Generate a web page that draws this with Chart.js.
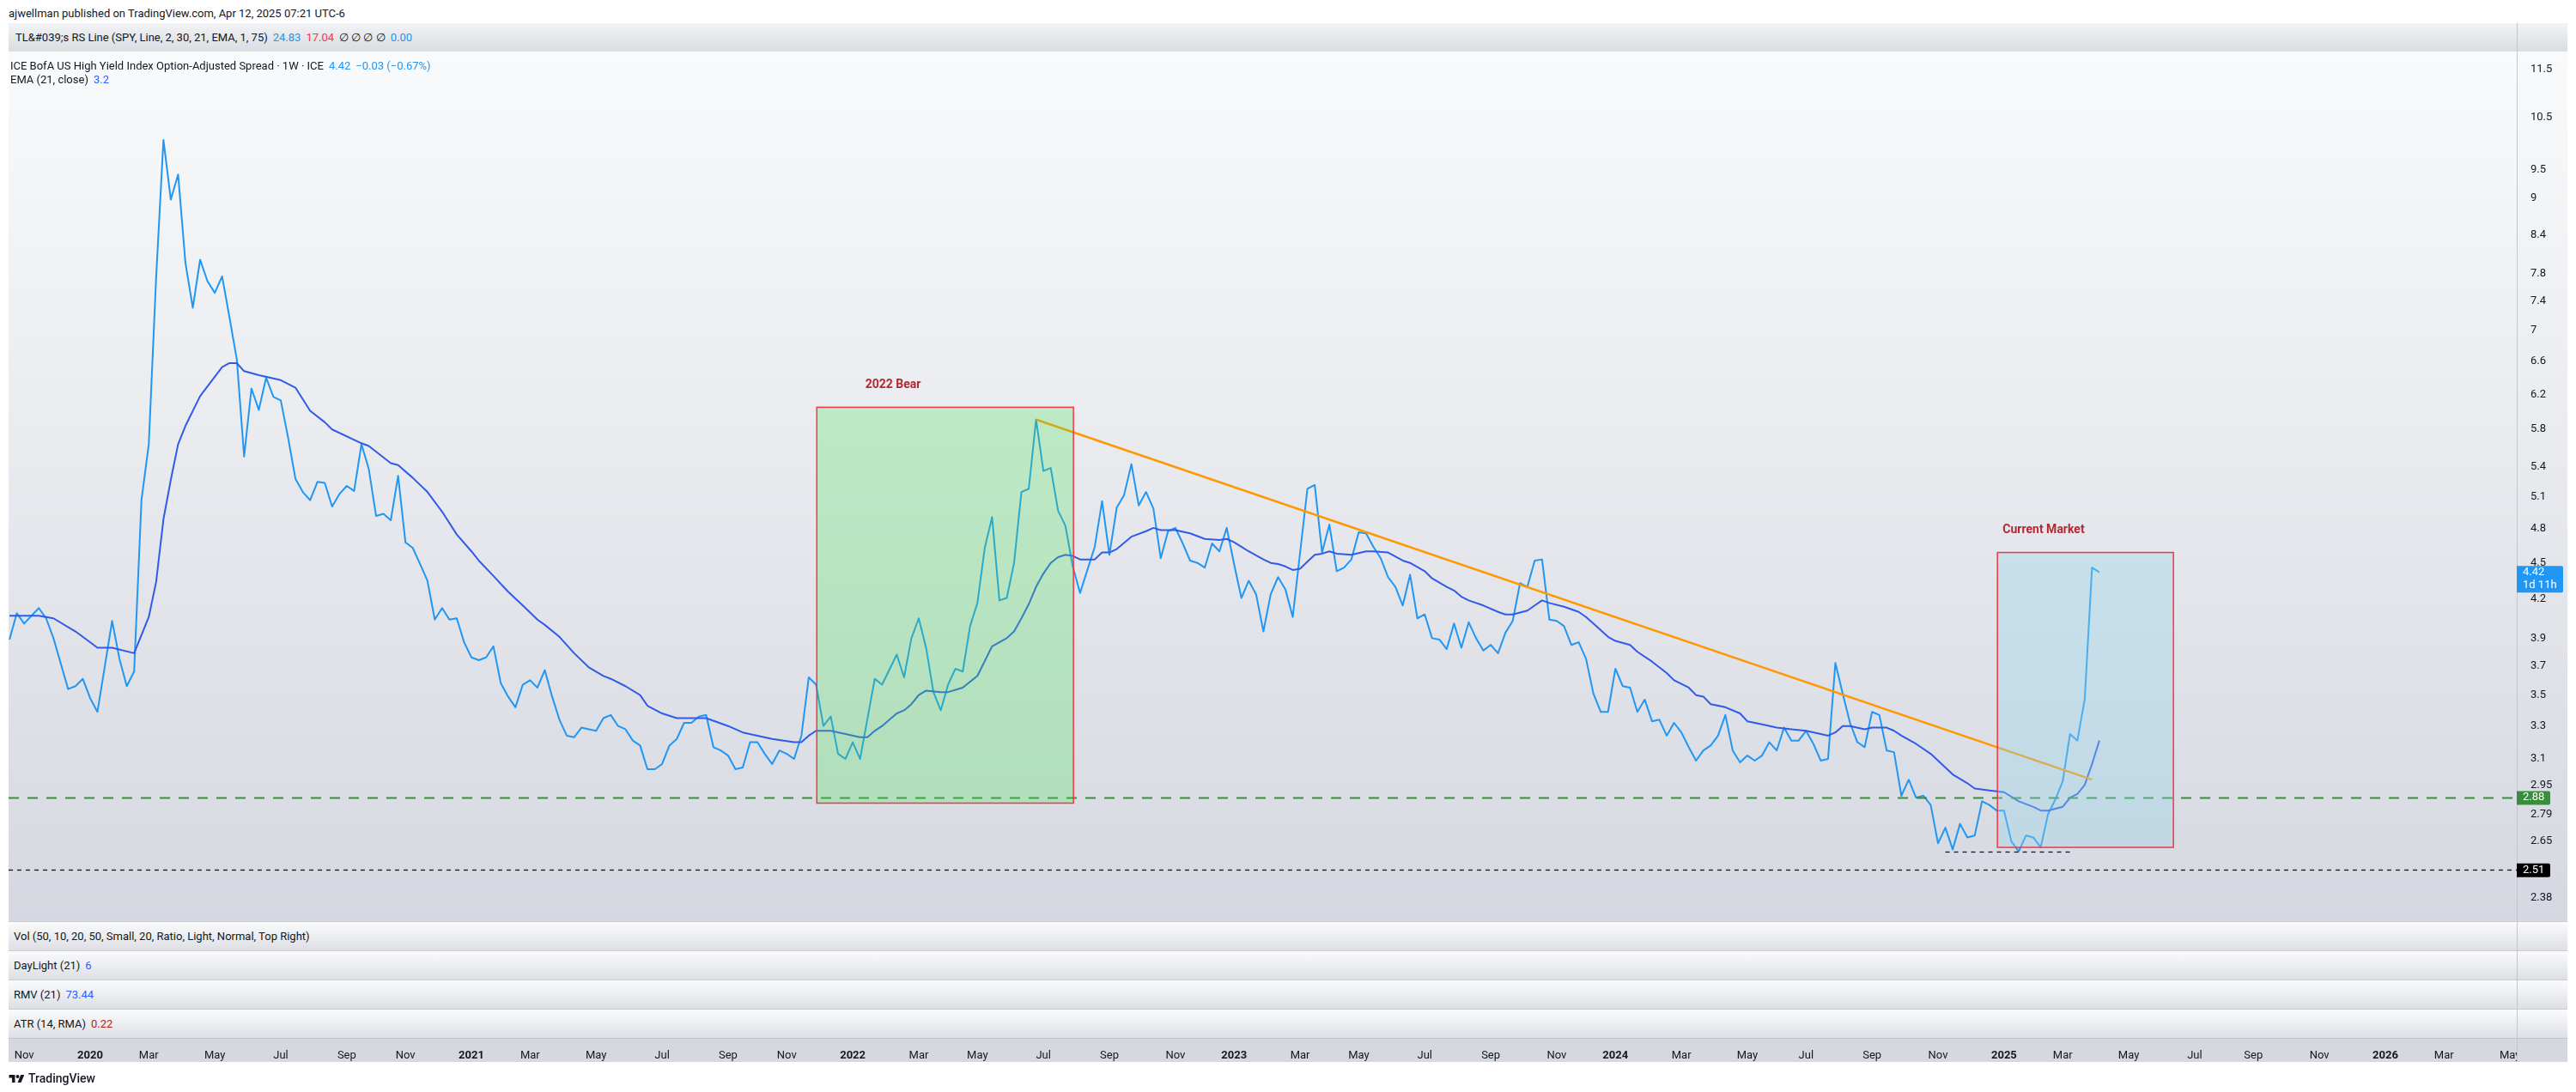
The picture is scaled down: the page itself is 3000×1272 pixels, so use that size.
<!DOCTYPE html>
<html>
<head>
<meta charset="utf-8">
<script src="https://cdn.jsdelivr.net/npm/chart.js@4.4.1/dist/chart.umd.min.js"></script>
<style>
  html, body { margin: 0; padding: 0; background: #fff; }
  body { width: 3000px; height: 1272px; position: relative; overflow: hidden;
         font-family: Roboto, "Noto Sans", sans-serif; font-size: 13px; color: #131722; }
  .abs { position: absolute; }
  #hdr { left: 10px; top: 8px; line-height: 16px; }
  #rs { left: 10px; top: 27px; width: 2980px; height: 33px; background: linear-gradient(#f2f3f5, #d9dce1); }
  #rs .t { position: absolute; left: 8px; top: 0; line-height: 33px; white-space: nowrap; }
  #mainbg { left: 10px; top: 60px; width: 2980px; height: 1013px; background: linear-gradient(#f9fafb, #d5d8e0); }
  .pane { left: 10px; width: 2980px; height: 34px; box-sizing: border-box;
          background: linear-gradient(#fbfbfc, #dcdfe5); border-top: 1px solid #c9ccd3; }
  .pane .t { position: absolute; left: 6px; top: 0; line-height: 33px; white-space: nowrap; }
  #timebg { left: 10px; top: 1209px; width: 2980px; height: 28px; box-sizing: border-box;
            background: #d5d8df; border-top: 1px solid #bfc3cb; }
  #sep { left: 2931px; top: 27px; width: 1px; height: 1210px; background: #c3c6cd; }
  #legend { left: 12px; top: 69px; line-height: 16px; z-index: 2; white-space: nowrap; }
  #logo { left: 10px; top: 1248px; line-height: 16px; font-size: 14px; font-weight: 500; z-index: 2; }
  #logo svg { vertical-align: -1px; margin-right: 4px; }
  .blue { color: #2196f3; }
  .blue2 { color: #2962ff; }
  .red { color: #f23645; }
  .dred { color: #b71c1c; }
  .gap { margin-left: 6px; }
  canvas { position: absolute; left: 0; top: 0; z-index: 1; }
</style>
</head>
<body>
<div id="hdr" class="abs">ajwellman published on TradingView.com, Apr 12, 2025 07:21 UTC-6</div>
<div id="rs" class="abs"><span class="t">TL&amp;#039;s RS Line (SPY, Line, 2, 30, 21, EMA, 1, 75)<span class="gap blue">24.83</span><span class="gap red">17.04</span><span class="gap">&#8709; &#8709; &#8709; &#8709;</span><span class="gap blue">0.00</span></span></div>
<div id="mainbg" class="abs"></div>
<div class="abs pane" style="top:1073px"><span class="t">Vol (50, 10, 20, 50, Small, 20, Ratio, Light, Normal, Top Right)</span></div>
<div class="abs pane" style="top:1107px"><span class="t">DayLight (21)<span class="gap blue2">6</span></span></div>
<div class="abs pane" style="top:1141px"><span class="t">RMV (21)<span class="gap blue2">73.44</span></span></div>
<div class="abs pane" style="top:1175px"><span class="t">ATR (14, RMA)<span class="gap dred">0.22</span></span></div>
<div id="timebg" class="abs"></div>
<div id="sep" class="abs"></div>
<div id="legend" class="abs">
  <div>ICE BofA US High Yield Index Option-Adjusted Spread · 1W · ICE<span class="gap blue">4.42</span><span class="gap blue">−0.03 (−0.67%)</span></div>
  <div>EMA (21, close)<span class="gap blue2">3.2</span></div>
</div>
<div id="logo" class="abs"><svg width="19" height="12" viewBox="0 0 36 24"><path d="M14 22H7V11H0V4h14v18z" fill="#131722"/><circle cx="20" cy="8" r="4" fill="#131722"/><path d="M28 22h-8l7.5-18h8L28 22z" fill="#131722"/></svg>TradingView</div>
<canvas id="c" width="3000" height="1272"></canvas>

<script>
const FONT = 'Roboto, "Noto Sans", sans-serif';

// weeks are counted from the bar of Mon 2020-01-06 (week 0)
const SPREAD_START_WEEK = -11;
// ICE BofA US HY OAS, weekly closes (null = not read, line spans over it)
const spreadValues = [
  3.89, 4.09, 4.01, null, 4.13, 4.05, 3.90, null, 3.54, 3.56,
  3.61, 3.48, 3.39, null, 4.03, 3.75, 3.56, 3.66, 5.07, 5.64,
  7.74, 10.06, 8.98, 9.42, 7.96, 7.31, 8.01, 7.69, 7.52, 7.76,
  7.18, 6.63, 5.51, 6.27, 6.02, 6.40, 6.17, 6.13, 5.71, 5.28,
  5.15, 5.07, 5.25, 5.24, 5.01, 5.13, 5.21, 5.16, 5.64, 5.38,
  4.92, 4.94, 4.88, 5.31, 4.68, 4.63, 4.49, 4.35, 4.04, 4.13,
  4.04, 4.05, 3.87, 3.76, 3.74, 3.76, 3.84, 3.58, 3.49, 3.42,
  3.57, 3.60, 3.55, 3.67, 3.49, 3.34, 3.24, 3.23, 3.29, 3.28,
  3.27, 3.35, 3.37, 3.30, 3.28, 3.21, 3.18, 3.04, 3.04, 3.07,
  3.18, 3.22, 3.32, 3.32, 3.36, 3.37, 3.17, 3.15, 3.12, 3.04,
  3.05, 3.20, 3.20, 3.13, 3.07, 3.15, 3.13, 3.10, 3.24, 3.62,
  3.57, 3.30, 3.36, 3.13, 3.10, 3.20, 3.10, null, 3.61, 3.57,
  null, 3.78, 3.62, 3.90, 4.05, 3.83, 3.52, 3.40, 3.57, 3.68,
  3.66, 3.99, 4.17, 4.63, 4.91, 4.19, 4.21, 4.50, 5.15, 5.18,
  5.91, 5.36, 5.39, 4.97, 4.83, 4.47, 4.25, 4.44, 4.64, 5.06,
  4.57, 5.00, 5.12, 5.43, 5.02, 5.15, 4.99, 4.54, 4.78, 4.81,
  4.67, 4.52, 4.50, 4.46, 4.67, 4.60, 4.81, 4.49, 4.21, 4.35,
  4.24, 3.95, 4.24, 4.38, 4.28, 4.06, null, 5.18, 5.22, 4.59,
  4.84, 4.43, 4.46, 4.53, 4.77, 4.76, 4.64, 4.54, 4.38, 4.30,
  4.15, 4.40, 4.05, 4.08, 3.90, 3.89, 3.82, 4.01, 3.83, 4.02,
  3.90, 3.81, 3.85, 3.79, 3.94, 4.03, 4.33, 4.30, 4.52, 4.53,
  4.04, 4.03, 3.99, 3.85, 3.87, 3.75, 3.51, 3.39, 3.39, 3.68,
  3.56, 3.55, 3.39, 3.47, 3.33, 3.34, 3.24, 3.32, 3.26, 3.17,
  3.09, 3.15, 3.18, 3.24, 3.37, 3.15, 3.08, 3.12, 3.09, 3.12,
  3.20, 3.15, 3.29, 3.21, 3.21, 3.27, 3.19, 3.09, 3.10, 3.72,
  3.51, 3.32, 3.20, 3.17, 3.39, 3.37, 3.15, 3.14, 2.89, 2.98,
  2.88, 2.89, 2.84, 2.64, 2.72, 2.61, 2.74, 2.67, 2.68, 2.86,
  2.84, 2.81, 2.81, 2.65, 2.60, 2.68, 2.67, 2.62, 2.79, 2.87,
  2.97, 3.25, 3.21, 3.47, 4.46, 4.42
];

// EMA (21, close), read at its bends
const emaWeeks = [
  -11, -7, -5, -2, -1, 1, 3, 6, 8, 9,
  10, 11, 12, 13, 15, 18, 19, 20, 21, 23,
  26, 28, 30, 32, 33, 37, 38, 41, 42, 44,
  46, 48, 50, 52, 53, 55, 57, 59, 61, 62,
  64, 66, 68, 70, 71, 73, 75, 76, 78, 80,
  82, 84, 87, 89, 91, 93, 96, 97, 98, 99,
  101, 103, 105, 106, 107, 108, 110, 111, 112, 113,
  114, 116, 117, 119, 121, 123, 125, 126, 127, 128,
  129, 130, 131, 132, 133, 134, 135, 137, 138, 139,
  140, 142, 144, 145, 146, 148, 150, 152, 154, 155,
  156, 157, 158, 160, 161, 162, 163, 164, 165, 166,
  167, 168, 169, 170, 172, 174, 175, 177, 179, 180,
  182, 183, 185, 186, 187, 188, 190, 192, 193, 194,
  196, 197, 198, 199, 201, 203, 204, 205, 207, 208,
  210, 211, 213, 215, 216, 218, 219, 220, 221, 222,
  223, 225, 226, 228, 230, 232, 234, 236, 237, 238,
  239, 240, 242, 243, 244, 245, 246, 247, 249, 251,
  252, 254, 256, 257, 259, 261, 263, 265, 266, 267,
  269, 270, 271, 272, 273, 274
];
const emaValues = [
  4.07, 4.07, 4.05, 3.95, 3.91, 3.83, 3.83, 3.79, 4.06, 4.34,
  4.89, 5.27, 5.64, 5.84, 6.18, 6.53, 6.58, 6.58, 6.48, 6.43,
  6.37, 6.28, 6.01, 5.88, 5.80, 5.65, 5.62, 5.44, 5.42, 5.29,
  5.15, 4.96, 4.75, 4.60, 4.52, 4.39, 4.26, 4.15, 4.04, 4.00,
  3.91, 3.79, 3.69, 3.63, 3.61, 3.56, 3.50, 3.43, 3.38, 3.35,
  3.35, 3.35, 3.30, 3.26, 3.24, 3.22, 3.20, 3.20, 3.24, 3.27,
  3.27, 3.25, 3.23, 3.23, 3.27, 3.30, 3.38, 3.40, 3.44, 3.50,
  3.53, 3.52, 3.52, 3.55, 3.63, 3.84, 3.90, 3.95, 4.05, 4.16,
  4.30, 4.41, 4.50, 4.55, 4.57, 4.56, 4.53, 4.53, 4.59, 4.59,
  4.62, 4.73, 4.78, 4.81, 4.79, 4.79, 4.76, 4.71, 4.70, 4.71,
  4.68, 4.64, 4.60, 4.53, 4.50, 4.49, 4.47, 4.44, 4.45, 4.51,
  4.57, 4.58, 4.60, 4.58, 4.57, 4.60, 4.60, 4.59, 4.52, 4.50,
  4.43, 4.37, 4.30, 4.27, 4.22, 4.19, 4.15, 4.10, 4.08, 4.08,
  4.11, 4.15, 4.19, 4.17, 4.14, 4.10, 4.06, 4.01, 3.91, 3.88,
  3.85, 3.80, 3.73, 3.65, 3.60, 3.55, 3.50, 3.49, 3.44, 3.43,
  3.42, 3.38, 3.33, 3.31, 3.29, 3.28, 3.27, 3.25, 3.24, 3.26,
  3.30, 3.30, 3.28, 3.29, 3.29, 3.29, 3.27, 3.24, 3.19, 3.13,
  3.09, 3.01, 2.96, 2.93, 2.92, 2.91, 2.86, 2.83, 2.81, 2.81,
  2.83, 2.88, 2.90, 2.95, 3.07, 3.21
];

// orange trend line drawing
const trendWeeks = [129, 273];
const trendValues = [5.91, 2.98];

// price scale ticks (log scale)
const yTickValues = [2.38, 2.65, 2.79, 2.95, 3.1, 3.3, 3.5, 3.7, 3.9, 4.2, 4.5, 4.8, 5.1, 5.4,
                     5.8, 6.2, 6.6, 7, 7.4, 7.8, 8.4, 9, 9.5, 10.5, 11.5];
const yTickLabels = ['2.38', '2.65', '2.79', '2.95', '3.1', '3.3', '3.5', '3.7', '3.9', '4.2', '4.5', '4.8', '5.1', '5.4',
                     '5.8', '6.2', '6.6', '7', '7.4', '7.8', '8.4', '9', '9.5', '10.5', '11.5'];

// time axis: one label every two months, on the first weekly bar of that month
const xTickMonths = [
  '2019-11', '2020-01', '2020-03', '2020-05', '2020-07', '2020-09', '2020-11',
  '2021-01', '2021-03', '2021-05', '2021-07', '2021-09', '2021-11',
  '2022-01', '2022-03', '2022-05', '2022-07', '2022-09', '2022-11',
  '2023-01', '2023-03', '2023-05', '2023-07', '2023-09', '2023-11',
  '2024-01', '2024-03', '2024-05', '2024-07', '2024-09', '2024-11',
  '2025-01', '2025-03', '2025-05', '2025-07', '2025-09', '2025-11',
  '2026-01', '2026-03', '2026-05'
];
const xTickLabels = [
  'Nov', '2020', 'Mar', 'May', 'Jul', 'Sep', 'Nov',
  '2021', 'Mar', 'May', 'Jul', 'Sep', 'Nov',
  '2022', 'Mar', 'May', 'Jul', 'Sep', 'Nov',
  '2023', 'Mar', 'May', 'Jul', 'Sep', 'Nov',
  '2024', 'Mar', 'May', 'Jul', 'Sep', 'Nov',
  '2025', 'Mar', 'May', 'Jul', 'Sep', 'Nov',
  '2026', 'Mar', 'May'
];

// drawings in data units (week, spread)
const boxes = [
  { from: 99.1, to: 134.1, high: 6.05, low: 2.85, fill: 'rgba(72, 226, 80, 0.27)', label: '2022 Bear', labelAt: [109.5, 6.31] },
  { from: 260.1, to: 284.1, high: 4.59, low: 2.62, fill: 'rgba(150, 214, 232, 0.36)', label: 'Current Market', labelAt: [266.4, 4.79] }
];
const levelLines = [
  { value: 2.88, color: '#388e3c', width: 2, dash: [12, 10] },
  { value: 2.51, color: '#131722', width: 1.3, dash: [5, 5] },
  { value: 2.60, from: 253, to: 270.3, color: '#131722', width: 1.3, dash: [5, 5] }
];
const badges = [
  { value: 4.42, text: ['4.42', '1d 11h'], bg: '#2196f3', w: 54 },
  { value: 2.88, text: ['2.88'], bg: '#388e3c', w: 39 },
  { value: 2.51, text: ['2.51'], bg: '#000000', w: 39 }
];

const X_MIN = -11.12, X_MAX = 330.92;
const Y_MIN = 2.277, Y_MAX = 11.9;

const WEEK_MS = 7 * 24 * 3600 * 1000;
const BASE = Date.UTC(2020, 0, 6);
function firstBarWeek(ym) {
  const [yy, mm] = ym.split('-').map(Number);
  const d = new Date(Date.UTC(yy, mm - 1, 1));
  while (d.getUTCDay() !== 1) d.setUTCDate(d.getUTCDate() + 1);
  return (d.getTime() - BASE) / WEEK_MS;
}
const xTickWeeks = xTickMonths.map(firstBarWeek);

const overlay = {
  id: 'overlay',
  afterDatasetsDraw(chart) {
    const { ctx, chartArea: a, scales: { x, y } } = chart;
    ctx.save();
    ctx.beginPath();
    ctx.rect(a.left, a.top, a.right - a.left, a.bottom - a.top);
    ctx.clip();

    levelLines.forEach(l => {
      const py = Math.round(y.getPixelForValue(l.value)) + 0.5;
      const x0 = l.from == null ? a.left : x.getPixelForValue(l.from);
      const x1 = l.to == null ? a.right : x.getPixelForValue(l.to);
      ctx.strokeStyle = l.color;
      ctx.lineWidth = l.width;
      ctx.setLineDash(l.dash);
      ctx.beginPath();
      ctx.moveTo(x0, py);
      ctx.lineTo(x1, py);
      ctx.stroke();
    });
    ctx.setLineDash([]);

    boxes.forEach(b => {
      const x0 = x.getPixelForValue(b.from), x1 = x.getPixelForValue(b.to);
      const y0 = y.getPixelForValue(b.high), y1 = y.getPixelForValue(b.low);
      ctx.fillStyle = b.fill;
      ctx.fillRect(x0, y0, x1 - x0, y1 - y0);
      ctx.strokeStyle = '#f23645';
      ctx.lineWidth = 1.5;
      ctx.strokeRect(x0, y0, x1 - x0, y1 - y0);
      ctx.fillStyle = '#b22833';
      ctx.font = 'bold 14px ' + FONT;
      ctx.textAlign = 'center';
      ctx.textBaseline = 'middle';
      ctx.fillText(b.label, x.getPixelForValue(b.labelAt[0]), y.getPixelForValue(b.labelAt[1]));
    });
    ctx.restore();
  },
  afterDraw(chart) {
    const { ctx, chartArea: a, scales: { y } } = chart;
    ctx.save();
    // corner under the price scale hides the cut-off month label
    ctx.fillStyle = '#d5d8df';
    ctx.fillRect(a.right, 1210, 59, 27);
    ctx.fillStyle = '#c3c6cd';
    ctx.fillRect(a.right, 1200, 1, 37);

    ctx.font = '13px ' + FONT;
    ctx.textAlign = 'left';
    ctx.textBaseline = 'middle';
    badges.forEach(b => {
      const py = y.getPixelForValue(b.value);
      const h = b.text.length > 1 ? 31 : 16;
      ctx.fillStyle = b.bg;
      ctx.beginPath();
      ctx.roundRect(a.right, py - 7.5, b.w, h, [0, 2, 2, 0]);
      ctx.fill();
      ctx.fillStyle = '#ffffff';
      b.text.forEach((t, i) => ctx.fillText(t, a.right + 7, py + i * 15));
    });
    ctx.restore();
  }
};

new Chart(document.getElementById('c'), {
  type: 'line',
  data: {
    datasets: [
      {
        label: 'ICE BofA US High Yield Index Option-Adjusted Spread',
        data: spreadValues.map((v, i) => ({ x: SPREAD_START_WEEK + i, y: v })),
        borderColor: '#2196f3',
        borderWidth: 2,
        pointRadius: 0,
        spanGaps: true,
        order: 3
      },
      {
        label: 'EMA (21, close)',
        data: emaWeeks.map((w, i) => ({ x: w, y: emaValues[i] })),
        borderColor: '#2f5be8',
        borderWidth: 2,
        pointRadius: 0,
        order: 2
      },
      {
        label: 'Trend',
        data: trendWeeks.map((w, i) => ({ x: w, y: trendValues[i] })),
        borderColor: '#ff9800',
        borderWidth: 2.5,
        pointRadius: 0,
        order: 1
      }
    ]
  },
  options: {
    responsive: false,
    animation: false,
    devicePixelRatio: 1,
    layout: { padding: { left: 10, right: 10, top: 60, bottom: 0 } },
    plugins: { legend: { display: false }, tooltip: { enabled: false } },
    elements: { line: { tension: 0, borderJoinStyle: 'round' } },
    scales: {
      x: {
        type: 'linear',
        min: X_MIN,
        max: X_MAX,
        bounds: 'data',
        grid: { display: false },
        border: { display: false },
        afterBuildTicks: s => { s.ticks = xTickWeeks.map(v => ({ value: v })); },
        afterFit: s => { s.height = 199; s.paddingLeft = 0; s.paddingRight = 0; },
        ticks: {
          autoSkip: false,
          maxRotation: 0,
          minRotation: 0,
          padding: 141,
          color: '#131722',
          font: ctx => ({ family: FONT, size: 13, weight: /^\d{4}$/.test(xTickLabels[ctx.index]) ? 'bold' : 'normal' }),
          callback: (v, i) => xTickLabels[i]
        }
      },
      y: {
        type: 'logarithmic',
        position: 'right',
        min: Y_MIN,
        max: Y_MAX,
        grid: { display: false },
        border: { display: false },
        afterBuildTicks: s => { s.ticks = yTickValues.map(v => ({ value: v })); },
        afterFit: s => { s.width = 59; },
        ticks: {
          autoSkip: false,
          padding: 8,
          color: '#131722',
          font: { family: FONT, size: 13 },
          callback: (v, i) => yTickLabels[i]
        }
      }
    }
  },
  plugins: [overlay]
});
</script>
</body>
</html>
